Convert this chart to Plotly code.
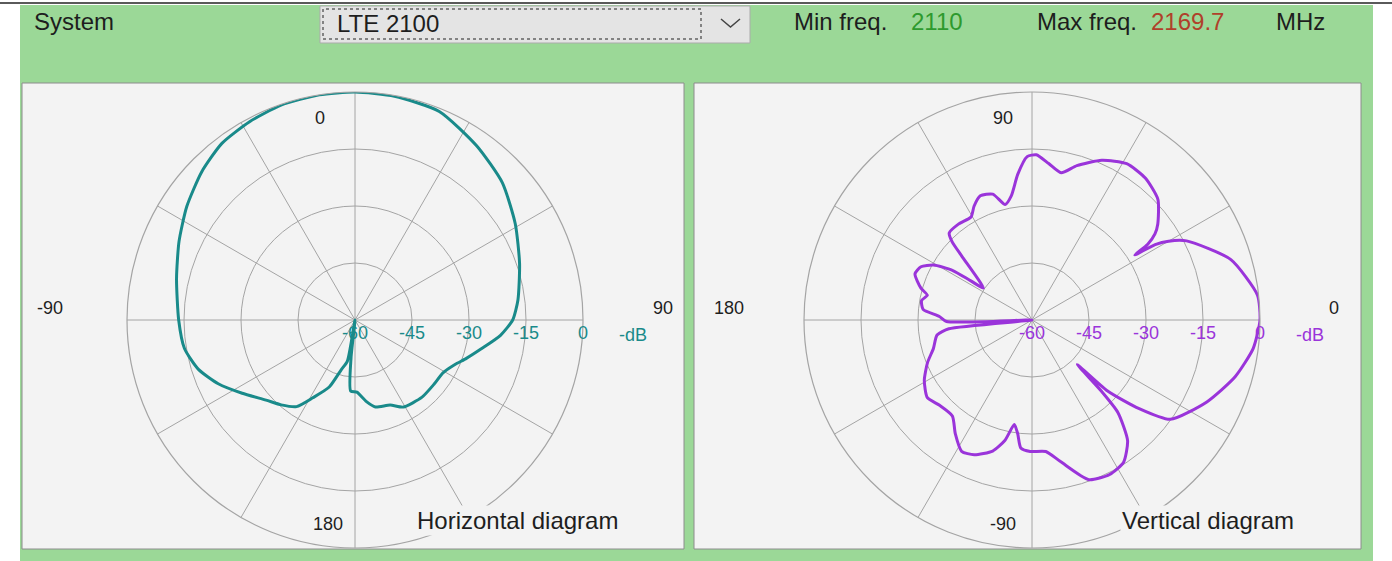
import plotly.graph_objects as go

W, H = 1392, 561

# ---------------- data ----------------
# Horizontal diagram: azimuth in degrees (0 at top, clockwise), gain in dB
h_angle = [0, 10, 22, 35, 47, 59, 71, 83, 90, 96, 103, 109, 114, 121, 129, 139,
           151, 157.5, 166.8, 172, 178.5, 183.5, 186, 188, 190.5, 195.5, 201,
           208.5, 214, 221, 228, 237, 245, 252.5, 260.5, 270, 283, 294, 304,
           314, 323, 332, 341, 351, 360]
h_gain = [0, -0.2, -0.8, -4.1, -7.0, -10.8, -14.2, -16.8, -18.5, -21.5, -26.0,
          -29.0, -31.2, -33.0, -33.2, -33.1, -33.8, -35.8, -36.5, -38.3, -41.0,
          -41.3, -50.0, -60.0, -49.0, -46.4, -41.1, -36.7, -32.5, -30.4, -28.5,
          -24.6, -20.3, -16.8, -14.5, -13.6, -11.8, -9.3, -6.6, -3.9, -1.8,
          -0.9, -0.2, 0, 0]

# Vertical diagram: elevation in degrees (0 at right, counter-clockwise), gain in dB
v_angle = [0, 6.3, 16.9, 27.1, 30, 31.5, 32.3, 33.2, 35, 37.3, 43.8, 51.4, 58.8,
           66.4, 73.8, 78.8, 83.9, 88.5, 91.7, 95.6, 99.4, 103.1, 107.3, 112.6,
           117, 120.6, 127.5, 133.6, 135.6, 137.7, 146.7, 147.4, 148, 150.8,
           154.4, 158.5, 164, 166.7, 170, 174.4, 177.8, 181, 183.5, 186, 189,
           196.1, 202.2, 209.3, 216.6, 222.7, 230.3, 236, 241.8, 246.8, 253.3,
           257.3, 260.4, 262.8, 265, 269.2, 276, 281.5, 289.6, 296.7, 302.8,
           308.4, 312.9, 314.3, 315.5, 316.8, 320.4, 324.3, 334.9, 344.4, 352.7,
           360]
v_gain = [0, -0.3, -5.3, -14.3, -18.5, -22.0, -28.0, -23.6, -20.5, -18.4, -14.1,
          -12.2, -11.9, -14.1, -17.7, -20.5, -18.6, -16.5, -17.0, -21.5, -26.8,
          -28.8, -25.3, -24.6, -26.4, -28.5, -28.2, -28.4, -30.6, -35.0, -44.7,
          -40.9, -35.3, -30.3, -27.6, -26.9, -29.6, -31.7, -30.5, -31.2, -35.6,
          -37.5, -60.0, -38.0, -34.7, -33.0, -30.3, -27.5, -25.7, -26.9, -27.2,
          -23.9, -20.8, -21.4, -24.0, -27.5, -32.1, -29.9, -26.2, -25.4, -25.2,
          -21.9, -15.4, -14.5, -15.5, -19.5, -26.8, -33.9, -43.3, -32.7, -23.4,
          -15.2, -9.2, -4.5, -1.3, 0]

radial_ticks = [-60, -45, -30, -15, 0]
radial_labels = ["-60", "-45", "-30", "-15", "0"]
spoke_angles = list(range(0, 360, 30))
h_angle_labels = ["0", "90", "180", "-90"]
v_angle_labels = ["90", "0", "-90", "180"]

header_labels = ["System", "Min freq.", "Max freq.", "MHz"]
system_name = "LTE 2100"
min_freq = "2110"
max_freq = "2169.7"

# ---------------- style ----------------
TEAL = "#198A8A"
PURPLE = "#9A34DA"
GREEN_BG = "#9BD897"
PANEL = "#F3F3F3"
GRID = "#A4A4A4"
FONT = "Liberation Sans, Arial, sans-serif"


def px(x):
    return x / W


def py(y):
    return 1 - y / H


R = 228
def polar_domain(cx, cy):
    return dict(x=[px(cx - R), px(cx + R)], y=[py(cy + R), py(cy - R)])


fig = go.Figure()
fig.add_trace(go.Scatterpolar(r=h_gain, theta=h_angle, mode="lines",
                              line=dict(color=TEAL, width=3, shape="spline", smoothing=0.6),
                              subplot="polar", hoverinfo="skip"))
fig.add_trace(go.Scatterpolar(r=v_gain, theta=v_angle, mode="lines",
                              line=dict(color=PURPLE, width=3, shape="spline", smoothing=0.6),
                              subplot="polar2", hoverinfo="skip"))


def polar_layout(cx, cy, color, rotation, direction):
    return dict(
        domain=polar_domain(cx, cy),
        bgcolor="rgba(0,0,0,0)",
        radialaxis=dict(range=[-60, 0], tickvals=radial_ticks, ticktext=radial_labels,
                        angle=0, side="clockwise", showline=False, ticks="",
                        gridcolor=GRID, gridwidth=1.2,
                        tickfont=dict(family=FONT, size=18, color=color)),
        angularaxis=dict(rotation=rotation, direction=direction, tickvals=spoke_angles,
                         showticklabels=False, ticks="", gridcolor=GRID, gridwidth=1.2,
                         showline=True, linecolor=GRID, linewidth=1.2),
    )


shapes = [
    dict(type="rect", xref="paper", yref="paper", x0=px(20), x1=px(1373), y0=py(561), y1=py(5),
         fillcolor=GREEN_BG, line=dict(width=0), layer="below"),
    dict(type="line", xref="paper", yref="paper", x0=0, x1=1, y0=py(3), y1=py(3),
         line=dict(color="#5A5A5A", width=2), layer="below"),
    dict(type="rect", xref="paper", yref="paper", x0=px(22), x1=px(684), y0=py(549), y1=py(83),
         fillcolor=PANEL, line=dict(color="#8C8C8C", width=1), layer="below"),
    dict(type="rect", xref="paper", yref="paper", x0=px(694), x1=px(1361), y0=py(549), y1=py(83),
         fillcolor=PANEL, line=dict(color="#8C8C8C", width=1), layer="below"),
    dict(type="rect", xref="paper", yref="paper", x0=px(320), x1=px(750), y0=py(43), y1=py(6),
         fillcolor="#E4E4E4", line=dict(color="#ABABAB", width=1), layer="below"),
    dict(type="rect", xref="paper", yref="paper", x0=px(323), x1=px(701), y0=py(39), y1=py(9),
         fillcolor="rgba(0,0,0,0)", line=dict(color="#222222", width=1, dash="dot"), layer="below"),
    dict(type="path", xref="paper", yref="paper",
         path=f"M {px(721)} {py(19)} L {px(730.5)} {py(27)} L {px(740)} {py(19)}",
         line=dict(color="#444444", width=1.5)),
]


def ann(text, x, y, size=24, color="#1E1E1E", xanchor="left", bg=None):
    d = dict(text=text, x=px(x), y=py(y), xref="paper", yref="paper", showarrow=False,
             xanchor=xanchor, yanchor="middle",
             font=dict(family=FONT, size=size, color=color))
    if bg:
        d["bgcolor"] = bg
    return d


annotations = [
    ann(header_labels[0], 32, 22),
    ann(system_name, 335, 23),
    ann(header_labels[1], 792, 22),
    ann(min_freq, 909, 22, color="#2E9A2E"),
    ann(header_labels[2], 1035, 22),
    ann(max_freq, 1149, 22, color="#B0402A"),
    ann(header_labels[3], 1274, 22),
    # horizontal diagram angle labels
    ann(h_angle_labels[0], 320, 118, size=18, xanchor="center"),
    ann(h_angle_labels[1], 663, 308, size=18, xanchor="center"),
    ann(h_angle_labels[2], 328, 524, size=18, xanchor="center"),
    ann(h_angle_labels[3], 50, 308, size=18, xanchor="center"),
    ann("-dB", 633, 335, size=18, color=TEAL, xanchor="center"),
    ann("Horizontal diagram", 517, 520, size=24, xanchor="center", bg=PANEL),
    # vertical diagram angle labels
    ann(v_angle_labels[0], 1003, 118, size=18, xanchor="center"),
    ann(v_angle_labels[1], 1334, 308, size=18, xanchor="center"),
    ann(v_angle_labels[2], 1003, 524, size=18, xanchor="center"),
    ann(v_angle_labels[3], 729, 308, size=18, xanchor="center"),
    ann("-dB", 1310, 335, size=18, color=PURPLE, xanchor="center"),
    ann("Vertical diagram", 1208, 520, size=24, xanchor="center", bg=PANEL),
]

fig.update_layout(
    width=W, height=H,
    margin=dict(l=0, r=0, t=0, b=0),
    paper_bgcolor="white",
    showlegend=False,
    polar=polar_layout(355, 320, TEAL, 90, "clockwise"),
    polar2=polar_layout(1032, 320, PURPLE, 0, "counterclockwise"),
    shapes=shapes,
    annotations=annotations,
)

fig.write_html("out.html", config={"displayModeBar": False},
               post_script="document.body.style.margin='0';")
